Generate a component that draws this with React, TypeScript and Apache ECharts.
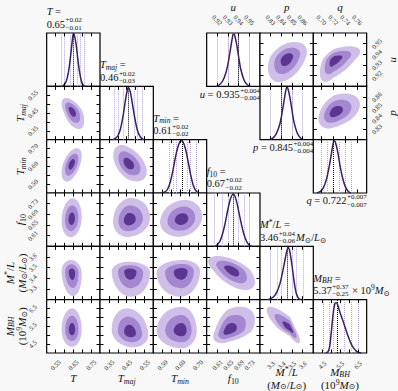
import React, { useEffect, useRef } from 'react';
import * as echarts from 'echarts';

const FONT = '"Liberation Serif", "DejaVu Serif", serif';
const TXT = '#111111';
const BG = '#f8f8f8';
const W = 398, H = 391;
const L0 = 46.67, T0 = 33, S = 53.33;

// ---------------- left corner plot: T, Tmaj, Tmin, f10, M*/L, M_BH ----------------
const leftMin = [0.5, 0.3, 0.45, 0.57, 3.2, 4.0];
const leftMax = [0.8, 0.6, 0.75, 0.77, 3.7, 7.0];
const leftTicks = [
  [0.55, 0.6, 0.65, 0.7, 0.75],
  [0.35, 0.4, 0.45, 0.5, 0.55],
  [0.5, 0.55, 0.6, 0.65, 0.7],
  [0.61, 0.65, 0.69, 0.73],
  [3.3, 3.4, 3.5, 3.6],
  [4.5, 5.0, 5.5, 6.0, 6.5],
];
const leftTickLabels = [
  [0.55, 0.65, 0.75],
  [0.35, 0.45, 0.55],
  [0.5, 0.6, 0.7],
  [0.61, 0.65, 0.69, 0.73],
  [3.3, 3.4, 3.5, 3.6],
  [4.5, 5.5, 6.5],
];
const leftDecimals = [2, 2, 2, 2, 1, 1];
const leftMedian = [0.65, 0.46, 0.61, 0.67, 3.46, 5.37];
const leftQuantiles = [
  [0.585, 0.605, 0.628, 0.67, 0.69, 0.708],
  [0.375, 0.4, 0.433, 0.487, 0.51, 0.54],
  [0.535, 0.56, 0.585, 0.635, 0.66, 0.685],
  [0.605, 0.627, 0.648, 0.692, 0.713, 0.735],
  [3.3, 3.357, 3.404, 3.498, 3.545, 3.607],
  [4.55, 4.9, 5.12, 5.74, 6.15, 6.5],
];
const histT = [[0.585, 0], [0.595, 0.02], [0.605, 0.06], [0.615, 0.15], [0.625, 0.32], [0.635, 0.58], [0.645, 0.88], [0.65, 0.98], [0.655, 0.97], [0.665, 0.8], [0.675, 0.52], [0.685, 0.27], [0.695, 0.1], [0.705, 0.02], [0.715, 0]];
const histTmaj = [[0.37, 0], [0.385, 0.02], [0.4, 0.07], [0.415, 0.2], [0.43, 0.45], [0.445, 0.78], [0.455, 0.95], [0.46, 0.98], [0.47, 0.9], [0.48, 0.72], [0.495, 0.42], [0.51, 0.18], [0.525, 0.06], [0.54, 0.01], [0.555, 0]];
const histTmin = [[0.5, 0], [0.515, 0.02], [0.53, 0.07], [0.545, 0.2], [0.56, 0.42], [0.575, 0.68], [0.59, 0.88], [0.605, 0.98], [0.615, 0.97], [0.63, 0.84], [0.645, 0.6], [0.66, 0.34], [0.675, 0.14], [0.69, 0.04], [0.705, 0]];
const histF10 = [[0.6, 0], [0.61, 0.03], [0.62, 0.1], [0.63, 0.24], [0.64, 0.45], [0.65, 0.7], [0.66, 0.9], [0.67, 0.98], [0.68, 0.88], [0.69, 0.66], [0.7, 0.42], [0.71, 0.22], [0.72, 0.09], [0.73, 0.02], [0.74, 0]];
const histML = [[3.27, 0], [3.3, 0.02], [3.33, 0.06], [3.36, 0.15], [3.39, 0.32], [3.41, 0.5], [3.43, 0.7], [3.45, 0.9], [3.465, 0.98], [3.48, 0.9], [3.5, 0.64], [3.52, 0.34], [3.54, 0.12], [3.56, 0.03], [3.58, 0]];
const histMBH = [[4.7, 0], [4.82, 0.02], [4.92, 0.12], [5.02, 0.42], [5.12, 0.75], [5.22, 0.93], [5.3, 0.94], [5.4, 0.87], [5.5, 0.76], [5.65, 0.62], [5.8, 0.47], [5.95, 0.32], [6.1, 0.19], [6.25, 0.1], [6.4, 0.04], [6.55, 0.01], [6.7, 0]];
const leftHists = [histT, histTmaj, histTmin, histF10, histML, histMBH];

// 2D contours: [xVar, yVar, centreX, centreY, xLow, xHigh, yLow, yHigh, correlation]
const leftContours = [
  [0, 1, 0.642, 0.461, 0.058, 0.07, 0.101, 0.074, -0.55],
  [0, 2, 0.641, 0.613, 0.057, 0.056, 0.099, 0.089, 0.5],
  [1, 2, 0.459, 0.615, 0.084, 0.104, 0.1, 0.105, -0.45],
  [0, 3, 0.641, 0.672, 0.057, 0.056, 0.068, 0.078, 0.1],
  [1, 3, 0.463, 0.669, 0.09, 0.118, 0.064, 0.082, 0.1],
  [2, 3, 0.61, 0.671, 0.122, 0.114, 0.065, 0.073, 0.15],
  [0, 4, 0.643, 3.455, 0.059, 0.054, 0.221, 0.117, -0.1],
  [1, 4, 0.469, 3.462, 0.103, 0.112, 0.234, 0.094, -0.05],
  [2, 4, 0.61, 3.462, 0.141, 0.103, 0.234, 0.11, 0.05],
  [3, 4, 0.664, 3.478, 0.088, 0.087, 0.188, 0.131, -0.6],
  [0, 5, 0.643, 5.3, 0.059, 0.054, 0.95, 1.21, 0.0],
  [1, 5, 0.469, 5.15, 0.103, 0.103, 0.83, 1.36, -0.15],
  [2, 5, 0.61, 5.25, 0.141, 0.084, 0.985, 1.35, 0.0],
  [3, 5, 0.651, 5.25, 0.056, 0.1, 0.7, 1.35, 0.45],
  [4, 5, 3.48, 5.39, 0.217, 0.095, 0.84, 1.21, -0.85],
];

const leftTitleValue = ['0.65', '0.46', '0.61', '0.67', '3.46', '5.37'];
const leftTitlePlus = ['+0.02', '+0.02', '+0.02', '+0.02', '+0.04', '+0.37'];
const leftTitleMinus = ['\u22120.01', '\u22120.03', '\u22120.02', '\u22120.02', '\u22120.06', '\u22120.25'];

// ---------------- right corner plot: u, p, q ----------------
const rightMin = [0.91, 0.82, 0.686];
const rightMax = [0.96, 0.87, 0.776];
const rightTicks = [
  [0.92, 0.93, 0.94, 0.95],
  [0.83, 0.84, 0.85, 0.86],
  [0.7, 0.72, 0.74, 0.76],
];
const rightMedian = [0.935, 0.845, 0.722];
const rightQuantiles = [
  [0.9215, 0.926, 0.9305, 0.9395, 0.944, 0.9485],
  [0.8315, 0.836, 0.8405, 0.8495, 0.854, 0.8585],
  [0.698, 0.706, 0.714, 0.73, 0.738, 0.746],
];
const histU = [[0.919, 0], [0.922, 0.03], [0.925, 0.1], [0.928, 0.25], [0.93, 0.42], [0.932, 0.66], [0.934, 0.9], [0.935, 0.98], [0.936, 0.97], [0.938, 0.8], [0.94, 0.55], [0.942, 0.32], [0.945, 0.12], [0.948, 0.03], [0.951, 0]];
const histP = [[0.829, 0], [0.832, 0.03], [0.835, 0.1], [0.838, 0.25], [0.84, 0.42], [0.842, 0.66], [0.844, 0.9], [0.845, 0.98], [0.846, 0.97], [0.848, 0.8], [0.85, 0.55], [0.852, 0.32], [0.855, 0.12], [0.858, 0.03], [0.861, 0]];
const histQ = [[0.692, 0], [0.698, 0.03], [0.703, 0.1], [0.708, 0.25], [0.712, 0.45], [0.716, 0.7], [0.719, 0.9], [0.721, 0.98], [0.723, 0.96], [0.727, 0.78], [0.731, 0.52], [0.735, 0.3], [0.74, 0.12], [0.745, 0.03], [0.75, 0]];
const rightHists = [histU, histP, histQ];
const rightContours = [
  [1, 0, 0.845, 0.936, 0.0175, 0.019, 0.022, 0.0156, 0.4],
  [2, 0, 0.721, 0.935, 0.024, 0.044, 0.0207, 0.0125, 0.6],
  [2, 1, 0.7226, 0.846, 0.028, 0.042, 0.0155, 0.0173, 0.4],
];
const rightKeys = ['u', 'p', 'q'];
const rightTitleValue = ['0.935', '0.845', '0.722'];
const rightTitlePlus = ['+0.004', '+0.004', '+0.007'];
const rightTitleMinus = ['\u22120.004', '\u22120.004', '\u22120.007'];

// contour levels (fraction of outer extent) and fills
const levelScale = [1, 0.66, 0.32];
const levelColor = ['#cfbfe8', '#a387d0', '#5c3590'];
const HIST_COLOR = '#3c1e64';
const QUANT_COLOR = '#b4a2e0';

// axis-name labels (rich text)
const leftNames = [
  ['{i|T}'],
  ['{i|T}{si|maj}'],
  ['{i|T}{si|min}'],
  ['{i|f}{sr|10}'],
  ['{i|M}{pr|*}{r|/}{i|L}', '{r|(}{i|M}{sr|\u2299}{r|/}{i|L}{sr|\u2299}{r|)}'],
  ['{i|M}{si|BH}', '{r|(10}{pr|9}{i|M}{sr|\u2299}{r|)}'],
];
const leftTitleName = [
  '{i|T}{r| =}',
  '{i|T}{si|maj}{r| =}',
  '{i|T}{si|min}{r| =}',
  '{i|f}{sr|10}{r| =}',
  '{i|M}{pr|*}{r|/}{i|L}{r| =}',
  '{i|M}{si|BH}{r| =}',
];
const leftTitleTail = ['', '', '', '', '{i|M}{sr|\u2299}{r|/}{i|L}{sr|\u2299}', '{r| \u00d7 10}{pr|9}{i|M}{sr|\u2299}'];

function richStyles(size: number, lhf = 1.3) {
  const sub = size * 0.72;
  const lh = size * lhf;
  return {
    i: { fontFamily: FONT, fontStyle: 'italic', fontSize: size, lineHeight: lh, fill: TXT, verticalAlign: 'middle' },
    r: { fontFamily: FONT, fontSize: size, lineHeight: lh, fill: TXT, verticalAlign: 'middle' },
    si: { fontFamily: FONT, fontStyle: 'italic', fontSize: sub, lineHeight: sub * 1.05, fill: TXT, verticalAlign: 'bottom' },
    sr: { fontFamily: FONT, fontSize: sub, lineHeight: sub * 1.05, fill: TXT, verticalAlign: 'bottom' },
    pr: { fontFamily: FONT, fontSize: sub, lineHeight: sub * 1.05, fill: TXT, verticalAlign: 'top' },
  };
}

let measureCtx: any = null;
function tw(text: string, size: number, italic = false) {
  if (!measureCtx) measureCtx = document.createElement('canvas').getContext('2d');
  measureCtx.font = `${italic ? 'italic ' : ''}${size}px ${FONT}`;
  return measureCtx.measureText(text).width;
}

function txt(x: number, y: number, text: string, size: number, align = 'center', rot = 0, lhf = 1.3) {
  return {
    type: 'text', x, y, rotation: rot, silent: true, z: 100,
    style: { text, rich: richStyles(size, lhf), fontFamily: FONT, fontSize: size, fill: TXT, align, verticalAlign: 'middle' },
  };
}
function plain(x: number, y: number, text: string, size: number) {
  return {
    type: 'text', x, y, silent: true, z: 100,
    style: { text, fontFamily: FONT, fontSize: size, lineHeight: size, fill: TXT, align: 'left', verticalAlign: 'middle' },
  };
}

function contourRing(c: number[], s: number, n = 100) {
  const cx = c[2], cy = c[3], xlo = c[4], xhi = c[5], ylo = c[6], yhi = c[7], rho = c[8];
  const q = Math.sqrt(1 - rho * rho);
  const pts: number[][] = [];
  for (let i = 0; i < n; i++) {
    const t = (2 * Math.PI * i) / n;
    const a = Math.cos(t);
    const b = rho * a + q * Math.sin(t);
    pts.push([cx + s * a * (a >= 0 ? xhi : xlo), cy + s * b * (b >= 0 ? yhi : ylo)]);
  }
  return pts;
}

function contourSeries(cdef: number[], xi: number, yi: number) {
  return {
    type: 'custom', coordinateSystem: 'cartesian2d', xAxisIndex: xi, yAxisIndex: yi, silent: true, z: 2,
    data: [[cdef[2], cdef[3]]],
    renderItem: (_params: any, api: any) => ({
      type: 'group',
      children: levelScale.map((s, k) => ({
        type: 'polygon',
        shape: { points: contourRing(cdef, s).map((p) => api.coord(p)) },
        style: { fill: levelColor[k], stroke: null },
      })),
    }),
  };
}

function histSeries(data: number[][], quant: number[], median: number, xi: number, yi: number) {
  return {
    type: 'line', xAxisIndex: xi, yAxisIndex: yi, data, smooth: 0.3, showSymbol: false, z: 4,
    lineStyle: { color: HIST_COLOR, width: 1.5 }, itemStyle: { color: HIST_COLOR },
    markLine: {
      silent: true, symbol: ['none', 'none'], label: { show: false }, z: 3,
      data: [
        ...quant.map((v) => ({ xAxis: v, lineStyle: { color: QUANT_COLOR, type: 'dotted', width: 1 } })),
        { xAxis: median, lineStyle: { color: '#000', type: 'dotted', width: 1 } },
      ],
    },
  };
}

function buildOption() {
  const grid: any[] = [], xAxis: any[] = [], yAxis: any[] = [], series: any[] = [], graphic: any[] = [];

  function axis(gi: number, position: string, min: number, max: number, ticks: number[], labels: number[], dec: number, showLabels: boolean) {
    const margin = position === 'left' ? 14 : position === 'right' ? 10 : position === 'top' ? 13 : 12;
    return {
      type: 'value', gridIndex: gi, position, min, max, z: 5,
      axisLine: { show: false },
      splitLine: { show: false },
      axisTick: { show: true, inside: true, length: 3.5, lineStyle: { color: '#000', width: 1 }, customValues: ticks },
      axisLabel: {
        show: showLabels, customValues: labels, formatter: (v: number) => Number(v).toFixed(dec),
        rotate: 45, align: 'center', verticalAlign: 'middle', margin, fontSize: 6.5, fontFamily: FONT, color: '#222',
      },
    };
  }

  function panel(col: number, row: number) {
    const gi = grid.length;
    grid.push({ left: L0 + col * S, top: T0 + row * S, width: S, height: S, show: true, backgroundColor: '#ffffff', borderColor: '#000', borderWidth: 1.2 });
    return gi;
  }

  // ---- left plot ----
  for (let r = 0; r < 6; r++) {
    for (let c = 0; c <= r; c++) {
      const gi = panel(c, r);
      const xi = xAxis.length;
      xAxis.push(axis(gi, 'bottom', leftMin[c], leftMax[c], leftTicks[c], leftTickLabels[c], leftDecimals[c], r === 5));
      xAxis.push(axis(gi, 'top', leftMin[c], leftMax[c], leftTicks[c], leftTickLabels[c], leftDecimals[c], false));
      const yi = yAxis.length;
      if (c === r) {
        yAxis.push({ type: 'value', gridIndex: gi, min: 0, max: 1, show: false });
        series.push(histSeries(leftHists[c], leftQuantiles[c], leftMedian[c], xi, yi));
      } else {
        yAxis.push(axis(gi, 'left', leftMin[r], leftMax[r], leftTicks[r], leftTickLabels[r], leftDecimals[r], c === 0));
        yAxis.push(axis(gi, 'right', leftMin[r], leftMax[r], leftTicks[r], leftTickLabels[r], leftDecimals[r], false));
        const cdef = leftContours.find((d) => d[0] === c && d[1] === r)!;
        series.push(contourSeries(cdef, xi, yi));
      }
    }
  }

  // ---- right plot ----
  for (let r = 0; r < 3; r++) {
    for (let c = r; c < 3; c++) {
      const gi = panel(3 + c, r);
      const xi = xAxis.length;
      xAxis.push(axis(gi, 'bottom', rightMin[c], rightMax[c], rightTicks[c], rightTicks[c], 2, false));
      xAxis.push(axis(gi, 'top', rightMin[c], rightMax[c], rightTicks[c], rightTicks[c], 2, r === 0));
      const yi = yAxis.length;
      if (c === r) {
        yAxis.push({ type: 'value', gridIndex: gi, min: 0, max: 1, show: false });
        series.push(histSeries(rightHists[c], rightQuantiles[c], rightMedian[c], xi, yi));
      } else {
        yAxis.push(axis(gi, 'left', rightMin[r], rightMax[r], rightTicks[r], rightTicks[r], 2, false));
        yAxis.push(axis(gi, 'right', rightMin[r], rightMax[r], rightTicks[r], rightTicks[r], 2, c === 2));
        const cdef = rightContours.find((d) => d[0] === c && d[1] === r)!;
        series.push(contourSeries(cdef, xi, yi));
      }
    }
  }

  // ---- titles left ----
  const TS = 10.5, SS = 7;
  for (let k = 0; k < 6; k++) {
    const x = L0 + k * S, top = T0 + k * S;
    graphic.push(txt(x, top - 21.5, leftTitleName[k], TS, 'left'));
    const vw = tw(leftTitleValue[k], TS);
    graphic.push(plain(x, top - 9, leftTitleValue[k], TS));
    graphic.push(plain(x + vw + 0.5, top - 12.8, leftTitlePlus[k], SS));
    graphic.push(plain(x + vw + 0.5, top - 5.2, leftTitleMinus[k], SS));
    if (leftTitleTail[k]) {
      const sw = Math.max(tw(leftTitlePlus[k], SS), tw(leftTitleMinus[k], SS));
      graphic.push(txt(x + vw + sw + 1.5, top - 9, leftTitleTail[k], TS, 'left'));
    }
  }
  // ---- titles right ----
  for (let k = 0; k < 3; k++) {
    const right = L0 + (4 + k) * S, bottom = T0 + (k + 1) * S;
    const y = bottom + 8;
    const main = `{i|${rightKeys[k]}}{r| = ${rightTitleValue[k]}}`;
    const mw = tw(rightKeys[k], TS, true) + tw(` = ${rightTitleValue[k]}`, TS);
    const sw = Math.max(tw(rightTitlePlus[k], SS), tw(rightTitleMinus[k], SS));
    const x0 = right - mw - sw - 0.5;
    graphic.push(txt(x0, y, main, TS, 'left'));
    graphic.push(plain(x0 + mw + 0.5, y - 3.8, rightTitlePlus[k], SS));
    graphic.push(plain(x0 + mw + 0.5, y + 3.6, rightTitleMinus[k], SS));
  }

  // ---- axis names ----
  const NS = 11;
  for (let k = 0; k < 6; k++) {
    const cxp = L0 + (k + 0.5) * S;
    const names = leftNames[k];
    if (names.length === 1) graphic.push(txt(cxp, 378, names[0], NS));
    else {
      graphic.push(txt(cxp, 372, names[0], NS, 'center', 0, 1.12));
      graphic.push(txt(cxp, 384.6, names[1], NS, 'center', 0, 1.12));
    }
    if (k >= 1) {
      const cyp = T0 + (k + 0.5) * S;
      if (names.length === 1) graphic.push(txt(20, cyp, names[0], NS, 'center', Math.PI / 2));
      else {
        graphic.push(txt(9.5, cyp, names[0], NS, 'center', Math.PI / 2, 1.12));
        graphic.push(txt(22, cyp, names[1], NS, 'center', Math.PI / 2, 1.12));
      }
    }
  }
  for (let k = 0; k < 3; k++) {
    graphic.push(txt(L0 + (3.5 + k) * S, 7, `{i|${rightKeys[k]}}`, NS));
  }
  for (let k = 0; k < 2; k++) {
    graphic.push(txt(392, T0 + (k + 0.5) * S, `{i|${rightKeys[k]}}`, NS, 'center', Math.PI / 2));
  }

  return { animation: false, backgroundColor: BG, grid, xAxis, yAxis, series, graphic };
}

export default function App() {
  const ref = useRef<HTMLDivElement>(null);
  useEffect(() => {
    const chart = echarts.init(ref.current!, null, { renderer: 'svg' });
    chart.setOption(buildOption() as any);
    return () => chart.dispose();
  }, []);
  return <div ref={ref} style={{ position: 'fixed', left: 0, top: 0, width: W, height: H }} />;
}
